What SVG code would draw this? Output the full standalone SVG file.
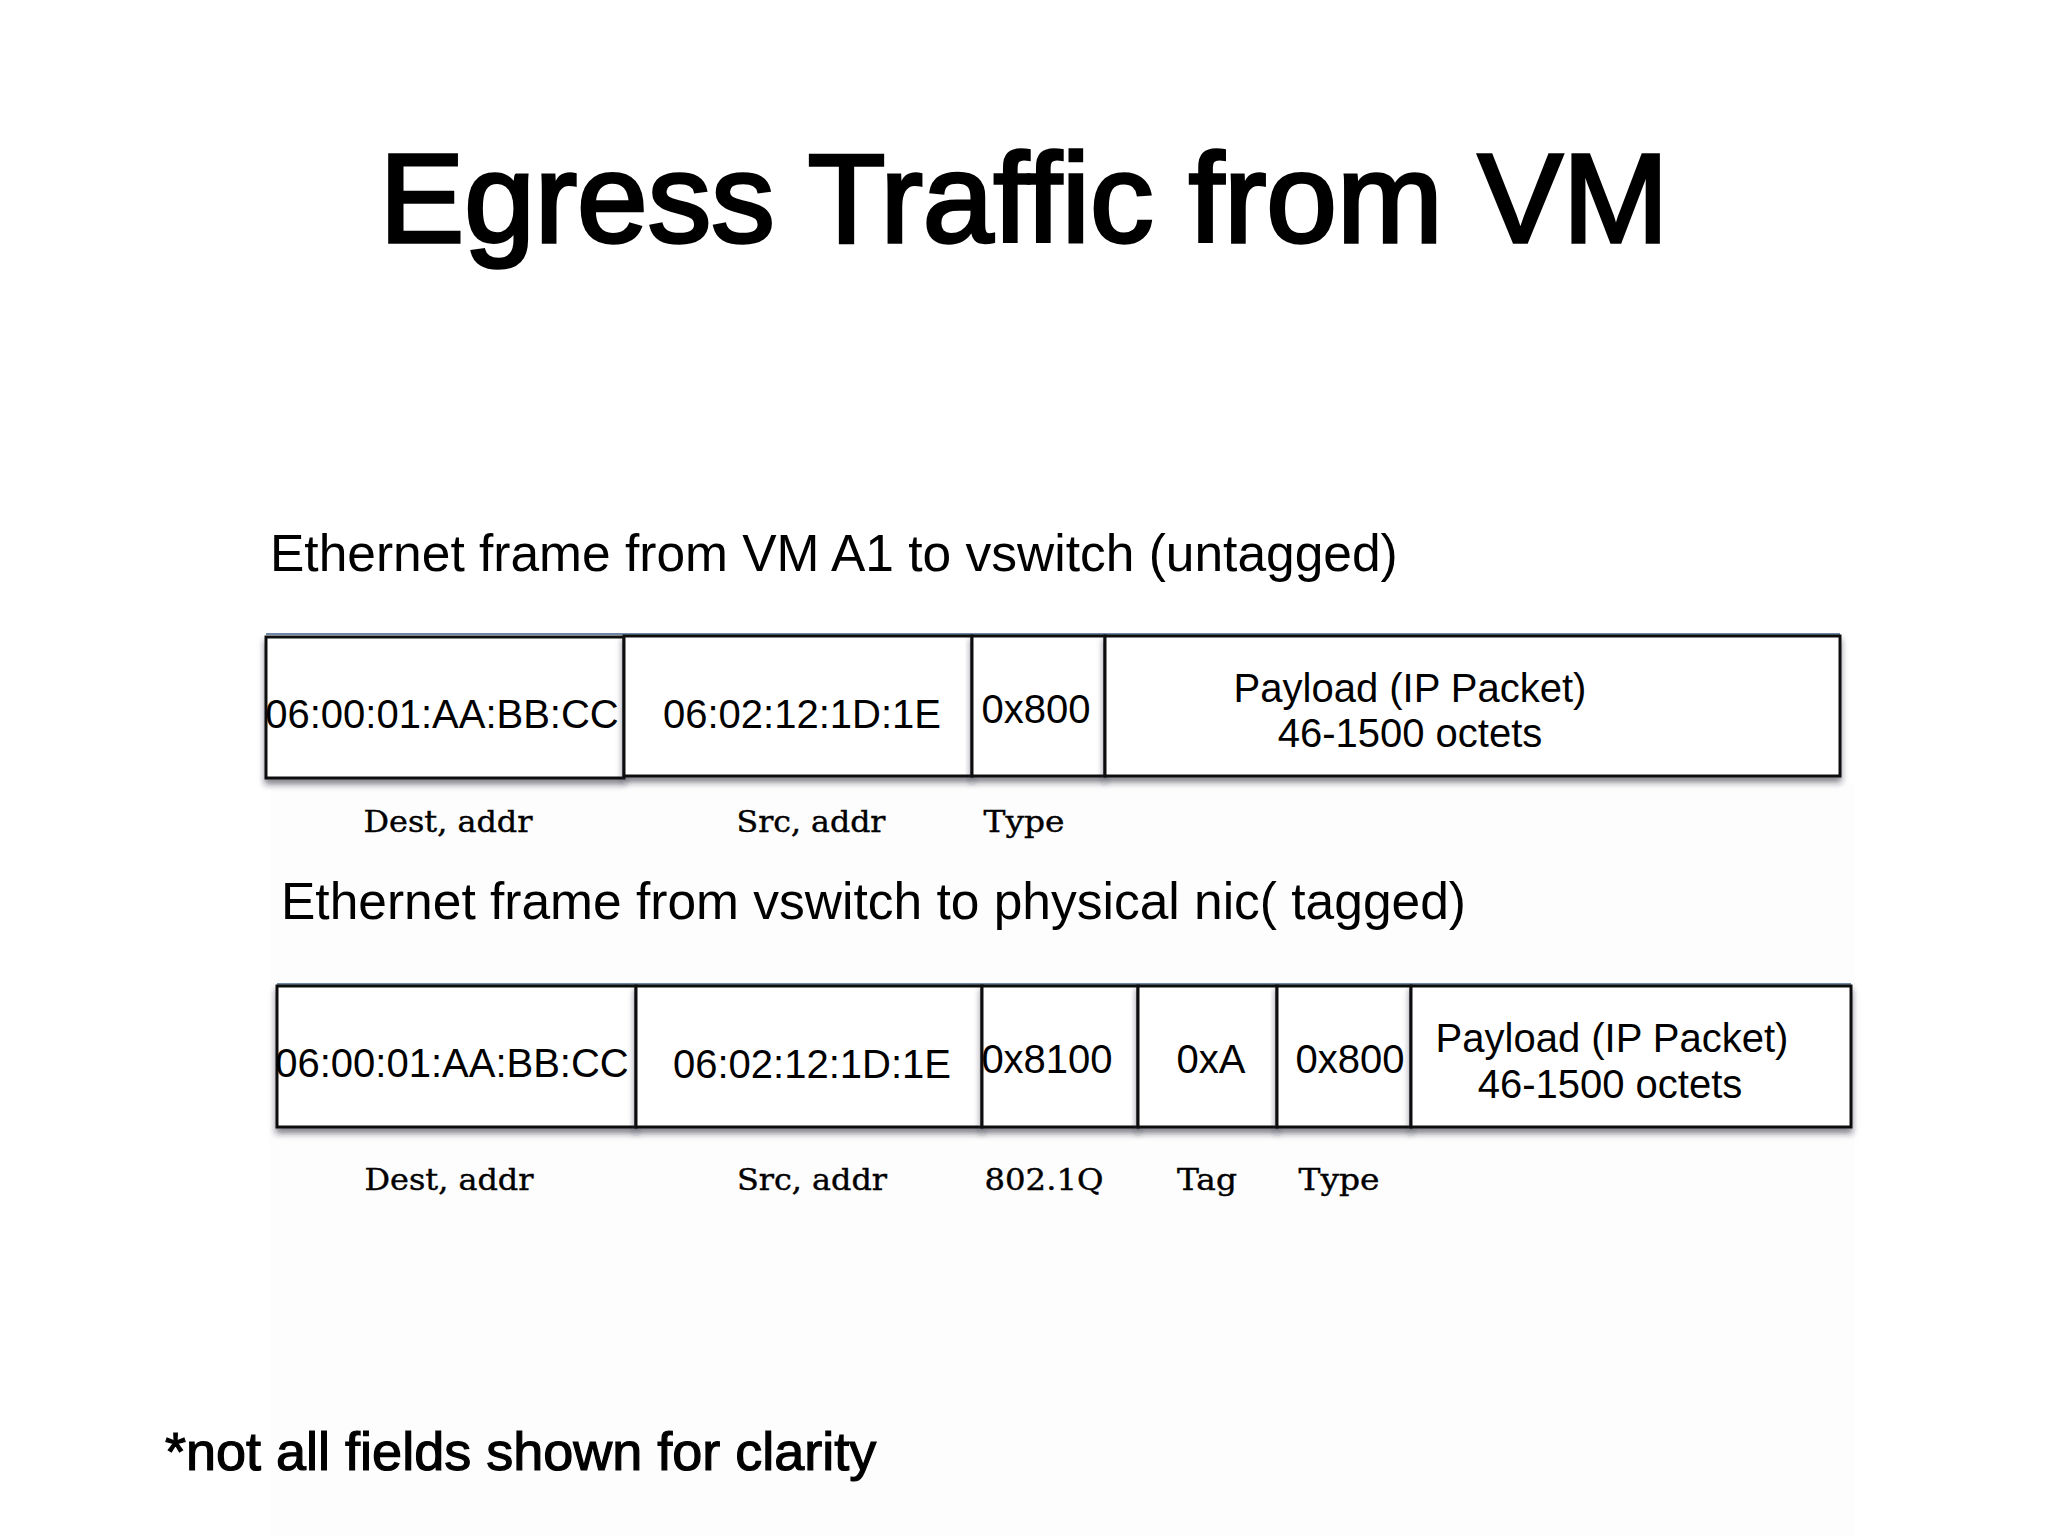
<svg xmlns="http://www.w3.org/2000/svg" width="2048" height="1536" viewBox="0 0 2048 1536">
  <defs>
    <filter id="shadow" x="-5%" y="-10%" width="110%" height="130%">
      <feDropShadow dx="0" dy="5" stdDeviation="3" flood-color="#1c2430" flood-opacity="0.55"/>
    </filter>
    <style>
      .box { fill: #ffffff; stroke: #111111; stroke-width: 3; }
      .edge { stroke: #6f8aa8; stroke-width: 2; }
      .fld { font-family: "Liberation Sans", Arial, sans-serif; font-size: 40px; fill: #000; text-anchor: middle; }
      .lbl { font-family: "DejaVu Serif", "Liberation Serif", serif; font-size: 29px; fill: #000; stroke: #000; stroke-width: 0.4; text-anchor: middle; }
      .sub { font-family: "Liberation Sans", Arial, sans-serif; font-size: 51.5px; fill: #000; }
      .title { font-family: "Liberation Sans", Arial, sans-serif; font-size: 127px; fill: #000; stroke: #000; stroke-width: 3.5; text-anchor: middle; }
      .foot { font-family: "Liberation Sans", Arial, sans-serif; font-size: 54px; fill: #000; stroke: #000; stroke-width: 1.2; }
    </style>
  </defs>

  <rect x="0" y="0" width="2048" height="1536" fill="#ffffff"/>
  <rect x="270" y="784" width="1585" height="752" fill="#fdfdfd"/>

  <text id="title" class="title" x="1024" y="242">Egress Traffic from VM</text>

  <text id="subtitle-untagged" class="sub" x="270" y="571">Ethernet frame from VM A1 to vswitch (untagged)</text>

  <g id="frame-untagged">
    <line class="edge" x1="266" y1="634" x2="1840" y2="634"/>
    <g id="f1-dest">
      <rect class="box" x="266" y="637" width="358" height="141" filter="url(#shadow)"/>
      <text class="fld" x="442" y="728">06:00:01:AA:BB:CC</text>
    </g>
    <g id="f1-src">
      <rect class="box" x="624" y="636" width="348" height="140" filter="url(#shadow)"/>
      <text class="fld" x="802" y="728">06:02:12:1D:1E</text>
    </g>
    <g id="f1-type">
      <rect class="box" x="972" y="636" width="133" height="140" filter="url(#shadow)"/>
      <text class="fld" x="1036" y="723">0x800</text>
    </g>
    <g id="f1-payload">
      <rect class="box" x="1105" y="636" width="735" height="140" filter="url(#shadow)"/>
      <text class="fld" x="1410" y="702">Payload (IP Packet)</text>
      <text class="fld" x="1410" y="747">46-1500 octets</text>
    </g>
  </g>

  <g id="labels-untagged">
    <text class="lbl" x="448" y="832" textLength="169" lengthAdjust="spacingAndGlyphs">Dest, addr</text>
    <text class="lbl" x="811" y="832" textLength="149" lengthAdjust="spacingAndGlyphs">Src, addr</text>
    <text class="lbl" x="1024" y="832" textLength="81" lengthAdjust="spacingAndGlyphs">Type</text>
  </g>

  <text id="subtitle-tagged" class="sub" x="281" y="919">Ethernet frame from vswitch to physical nic( tagged)</text>

  <g id="frame-tagged">
    <line class="edge" x1="277" y1="984" x2="1851" y2="984"/>
    <g id="f2-dest">
      <rect class="box" x="277" y="986" width="359" height="141" filter="url(#shadow)"/>
      <text class="fld" x="452" y="1077">06:00:01:AA:BB:CC</text>
    </g>
    <g id="f2-src">
      <rect class="box" x="636" y="986" width="346" height="141" filter="url(#shadow)"/>
      <text class="fld" x="812" y="1078">06:02:12:1D:1E</text>
    </g>
    <g id="f2-8021q">
      <rect class="box" x="982" y="986" width="156" height="141" filter="url(#shadow)"/>
      <text class="fld" x="1047" y="1073">0x8100</text>
    </g>
    <g id="f2-tag">
      <rect class="box" x="1138" y="986" width="139" height="141" filter="url(#shadow)"/>
      <text class="fld" x="1211" y="1073">0xA</text>
    </g>
    <g id="f2-type">
      <rect class="box" x="1277" y="986" width="134" height="141" filter="url(#shadow)"/>
      <text class="fld" x="1350" y="1073">0x800</text>
    </g>
    <g id="f2-payload">
      <rect class="box" x="1411" y="986" width="440" height="141" filter="url(#shadow)"/>
      <text class="fld" x="1612" y="1052">Payload (IP Packet)</text>
      <text class="fld" x="1610" y="1098">46-1500 octets</text>
    </g>
  </g>

  <g id="labels-tagged">
    <text class="lbl" x="449" y="1190" textLength="169" lengthAdjust="spacingAndGlyphs">Dest, addr</text>
    <text class="lbl" x="812" y="1190" textLength="150" lengthAdjust="spacingAndGlyphs">Src, addr</text>
    <text class="lbl" x="1044" y="1190" textLength="119" lengthAdjust="spacingAndGlyphs">802.1Q</text>
    <text class="lbl" x="1207" y="1190" textLength="60" lengthAdjust="spacingAndGlyphs">Tag</text>
    <text class="lbl" x="1339" y="1190" textLength="81" lengthAdjust="spacingAndGlyphs">Type</text>
  </g>

  <text id="footnote" class="foot" x="165" y="1470">*not all fields shown for clarity</text>
</svg>
